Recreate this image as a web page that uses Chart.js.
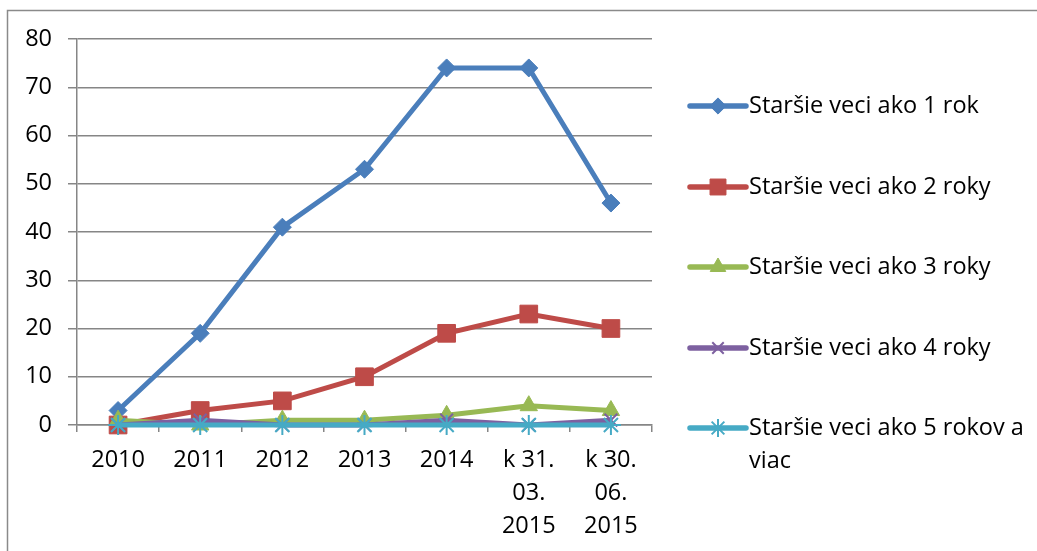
<!DOCTYPE html>
<html>
<head>
<meta charset="utf-8">
<script src="https://cdn.jsdelivr.net/npm/chart.js@4"></script>
<style>
  html, body { margin: 0; padding: 0; background: #fff; }
  #wrap { position: relative; width: 1037px; height: 551px; }
</style>
</head>
<body>
<div id="wrap"><canvas id="c" width="1037" height="551"></canvas></div>
<script>
const categories = ['2010', '2011', '2012', '2013', '2014', ['k 31.', '03.', '2015'], ['k 30.', '06.', '2015']];
const seriesNames = [
  'Staršie veci ako 1 rok',
  'Staršie veci ako 2 roky',
  'Staršie veci ako 3 roky',
  'Staršie veci ako 4 roky',
  ['Staršie veci ako 5 rokov a', 'viac']
];
const s1 = [3, 19, 41, 53, 74, 74, 46];
const s2 = [0, 3, 5, 10, 19, 23, 20];
const s3 = [1, 0, 1, 1, 2, 4, 3];
const s4 = [0, 1, 0, 0, 1, 0, 1];
const s5 = [0, 0, 0, 0, 0, 0, 0];
const yTicks = [0, 10, 20, 30, 40, 50, 60, 70, 80];

const colors = ['#4A7EBB', '#BE4B48', '#98B954', '#7D60A0', '#46AAC5'];
const styles = [
  { pointStyle: 'rectRot', radius: 9, bw: 1 },
  { pointStyle: 'rect', radius: 12.5, bw: 1 },
  { pointStyle: 'triangle', radius: 10, bw: 1 },
  { pointStyle: 'crossRot', radius: 9, bw: 2 },
  { pointStyle: 'star', radius: 10, bw: 2 }
];
const values = [s1, s2, s3, s4, s5];
const FONT = '"Open Sans", "Liberation Sans", sans-serif';
const FSIZE = 23.5;
const GRID = '#868686';

const datasets = values.map((v, i) => ({
  label: Array.isArray(seriesNames[i]) ? seriesNames[i].join(' ') : seriesNames[i],
  data: v,
  borderColor: colors[i],
  backgroundColor: colors[i],
  borderWidth: 5,
  pointStyle: styles[i].pointStyle,
  pointRadius: styles[i].radius,
  pointHoverRadius: styles[i].radius,
  pointBackgroundColor: colors[i],
  pointBorderColor: colors[i],
  pointBorderWidth: styles[i].bw,
  tension: 0,
  clip: false,
  order: 5 - i
}));

const framePlugin = {
  id: 'frame',
  beforeDraw(chart) {
    const ctx = chart.ctx;
    ctx.save();
    ctx.strokeStyle = '#8a8a8a';
    ctx.lineWidth = 1.5;
    ctx.beginPath();
    ctx.moveTo(7.5, 551);
    ctx.lineTo(7.5, 10.5);
    ctx.lineTo(1037, 10.5);
    ctx.stroke();
    ctx.restore();
  }
};

const legendPlugin = {
  id: 'customLegend',
  afterDraw(chart) {
    const ctx = chart.ctx;
    const x0 = 690, x1 = 746, tx = 749;
    const ys = [106, 187, 267, 348, 428];
    ctx.save();
    seriesNames.forEach((name, i) => {
      const y = ys[i];
      ctx.strokeStyle = colors[i];
      ctx.lineWidth = 5.5;
      ctx.lineCap = 'round';
      ctx.beginPath();
      ctx.moveTo(x0, y);
      ctx.lineTo(x1, y);
      ctx.stroke();
      ctx.lineCap = 'butt';
      ctx.fillStyle = colors[i];
      ctx.strokeStyle = colors[i];
      ctx.lineWidth = styles[i].bw;
      Chart.helpers.drawPoint(ctx, {
        pointStyle: styles[i].pointStyle,
        radius: styles[i].radius * 0.9,
        rotation: 0,
        borderWidth: styles[i].bw
      }, (x0 + x1) / 2, y);
      ctx.fillStyle = '#000';
      ctx.font = FSIZE + 'px ' + FONT;
      ctx.textBaseline = 'middle';
      ctx.textAlign = 'left';
      const lines = Array.isArray(name) ? name : [name];
      lines.forEach((ln, k) => ctx.fillText(ln, tx, y + k * 33));
    });
    ctx.restore();
  }
};

new Chart(document.getElementById('c'), {
  type: 'line',
  data: { labels: categories, datasets },
  options: {
    responsive: false,
    animation: false,
    events: [],
    layout: { padding: { left: 0, top: 39, right: 385, bottom: 0 } },
    plugins: { legend: { display: false }, tooltip: { enabled: false } },
    scales: {
      x: {
        offset: true,
        grid: {
          offset: true,
          drawOnChartArea: false,
          drawTicks: true,
          tickLength: 7,
          color: GRID,
          lineWidth: 1.5
        },
        border: { display: true, color: GRID, width: 1.5 },
        ticks: {
          autoSkip: false,
          maxRotation: 0,
          minRotation: 0,
          padding: 12,
          color: '#000',
          font: { family: FONT, size: FSIZE, lineHeight: 1.4 }
        },
        afterFit(scale) { scale.height = 126; }
      },
      y: {
        min: 0,
        max: 80,
        afterBuildTicks(scale) { scale.ticks = yTicks.map(v => ({ value: v })); },
        grid: {
          color: GRID,
          lineWidth: 1.5,
          drawTicks: true,
          tickLength: 9
        },
        border: { display: true, color: GRID, width: 1.5 },
        ticks: {
          padding: 16,
          color: '#000',
          font: { family: FONT, size: FSIZE }
        },
        afterFit(scale) { scale.width = 77; }
      }
    }
  },
  plugins: [framePlugin, legendPlugin]
});
</script>
</body>
</html>
